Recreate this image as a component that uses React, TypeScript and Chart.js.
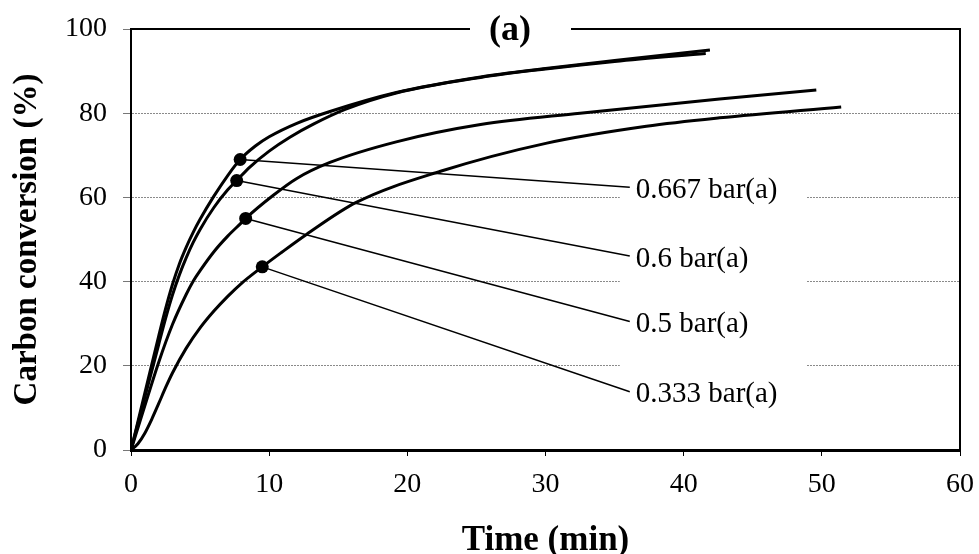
import React, { useEffect, useRef } from 'react';
import { Chart, registerables } from 'chart.js';

Chart.register(...registerables);

const FONT = "'Liberation Serif', 'Times New Roman', Times, serif";

// Series data (time in min, carbon conversion in %)
const time667 = [0, 1, 2, 2.5, 3, 3.5, 4, 4.5, 5, 6, 7, 7.9, 9, 10, 12, 14.4, 19.2, 25.3, 30, 35, 41.9];
const conv667 = [0, 13.5, 27, 33.5, 39.3, 44.2, 48.2, 51.7, 54.8, 60.3, 65.2, 69, 72.2, 74.4, 77.6, 80.4, 84.9, 88.6, 90.6, 92.5, 95.0];

const time600 = [0, 1, 2, 2.5, 3, 3.5, 4, 4.5, 5, 6, 7, 7.65, 8.6, 10, 11.5, 13.2, 15.5, 19.2, 25.3, 30, 35, 41.6];
const conv600 = [0, 12.5, 25, 31.2, 36.8, 41.6, 45.7, 49.3, 52.4, 57.6, 61.8, 64, 67.2, 71.0, 74.3, 77.4, 80.9, 84.8, 88.5, 90.5, 92.3, 94.2];

const time500 = [0, 1, 2, 3, 4, 4.5, 5, 6, 7, 8, 8.3, 10.3, 12, 14.4, 19.2, 25.3, 32.5, 42.6, 49.6];
const conv500 = [0, 10.5, 20.8, 29.8, 37, 40.1, 42.6, 47.1, 50.8, 54, 55, 60.5, 64.5, 68.3, 73.2, 77.3, 80.0, 83.4, 85.5];

const time333 = [0, 0.5, 1, 1.5, 2, 2.5, 3, 4, 5, 6, 7, 8, 9.5, 10.8, 12.7, 16.3, 22.4, 30.1, 37.3, 42.6, 51.4];
const conv333 = [0, 1.5, 4, 7.3, 11, 14.8, 18.3, 24.2, 29, 33, 36.5, 39.6, 43.5, 46.7, 51.2, 58.8, 66.2, 72.9, 76.9, 78.9, 81.5];

const seriesNames = ['0.667 bar(a)', '0.6 bar(a)', '0.5 bar(a)', '0.333 bar(a)'];
const markerTime = [7.9, 7.65, 8.3, 9.5];
const markerConv = [69, 64, 55, 43.5];
const labelTime = 36.1;
const labelConv = [62.4, 46.1, 30.5, 13.85];

const xTicks = [0, 10, 20, 30, 40, 50, 60];
const yTicks = [0, 20, 40, 60, 80, 100];

const chartTitle = '(a)';
const xTitle = 'Time (min)';
const yTitle = 'Carbon conversion (%)';

const toPts = (xs: number[], ys: number[]) => xs.map((x, i) => ({ x, y: ys[i] }));

const annotPlugin = {
  id: 'annot',
  beforeDatasetsDraw(chart: any) {
    const { ctx, scales } = chart;
    const x = scales.x, y = scales.y;
    const lx = x.getPixelForValue(labelTime);
    const top = y.getPixelForValue(labelConv[0]) - 26;
    const bottom = y.getPixelForValue(labelConv[labelConv.length - 1]) + 22;
    ctx.save();
    ctx.fillStyle = '#ffffff';
    ctx.fillRect(lx - 10, top, 187, bottom - top);
    ctx.restore();
  },
  afterDatasetsDraw(chart: any) {
    const { ctx, scales } = chart;
    const x = scales.x, y = scales.y;
    ctx.save();
    ctx.fillStyle = '#000';
    ctx.font = `29px ${FONT}`;
    ctx.textAlign = 'left';
    ctx.textBaseline = 'middle';
    seriesNames.forEach((n, i) => {
      ctx.fillText(n, x.getPixelForValue(labelTime) + 6, y.getPixelForValue(labelConv[i]) + 3);
    });
    ctx.restore();
  },
  afterDraw(chart: any) {
    const { ctx, chartArea } = chart;
    const { left, right, top, bottom } = chartArea;
    const gapL = left + 339;
    const gapR = left + 440;
    ctx.save();
    ctx.strokeStyle = '#000';
    ctx.lineWidth = 2;
    ctx.beginPath();
    ctx.moveTo(left, top);
    ctx.lineTo(gapL, top);
    ctx.moveTo(gapR, top);
    ctx.lineTo(right, top);
    ctx.moveTo(right, top - 1);
    ctx.lineTo(right, bottom);
    ctx.stroke();
    ctx.fillStyle = '#000';
    ctx.font = `bold 36px ${FONT}`;
    ctx.textAlign = 'center';
    ctx.textBaseline = 'middle';
    ctx.fillText(chartTitle, left + 379, top + 2);
    ctx.restore();
  },
};

export default function App() {
  const ref = useRef<HTMLCanvasElement | null>(null);

  useEffect(() => {
    if (!ref.current) return;
    const curve = (xs: number[], ys: number[], label: string) => ({
      label,
      data: toPts(xs, ys),
      borderColor: '#000',
      backgroundColor: '#000',
      borderWidth: 3,
      pointRadius: 0,
      cubicInterpolationMode: 'monotone' as const,
    });
    const leader = (i: number) => ({
      label: 'leader ' + seriesNames[i],
      data: [
        { x: markerTime[i], y: markerConv[i] },
        { x: labelTime, y: labelConv[i] },
      ],
      borderColor: '#000',
      backgroundColor: '#000',
      borderWidth: 1.5,
      pointRadius: [6.5, 0],
      pointBorderWidth: 0,
      tension: 0,
    });
    const chart = new Chart(ref.current, {
      type: 'line',
      data: {
        datasets: [
          curve(time667, conv667, seriesNames[0]),
          curve(time600, conv600, seriesNames[1]),
          curve(time500, conv500, seriesNames[2]),
          curve(time333, conv333, seriesNames[3]),
          leader(0),
          leader(1),
          leader(2),
          leader(3),
        ] as any,
      },
      options: {
        animation: false,
        responsive: false,
        devicePixelRatio: 1,
        layout: { padding: { left: 0, right: 19, top: 29, bottom: 0 } },
        plugins: {
          legend: { display: false },
          tooltip: { enabled: false },
        },
        scales: {
          x: {
            type: 'linear',
            min: 0,
            max: 60,
            afterBuildTicks: (s: any) => {
              s.ticks = xTicks.map((v) => ({ value: v }));
            },
            afterFit: (s: any) => {
              s.height = 104;
              s.paddingLeft = 0;
              s.paddingRight = 0;
            },
            ticks: {
              color: '#000',
              font: { family: FONT, size: 28 },
              padding: 12,
              maxRotation: 0,
            },
            grid: {
              drawOnChartArea: false,
              drawTicks: true,
              tickLength: 6,
              tickColor: '#000',
              tickWidth: 1,
            },
            border: { display: true, color: '#000', width: 3 },
            title: {
              display: true,
              text: xTitle,
              color: '#000',
              font: { family: FONT, size: 35, weight: 'bold', lineHeight: 0.5 },
              padding: { top: 0, bottom: 4 },
            },
          },
          y: {
            type: 'linear',
            min: 0,
            max: 100,
            afterBuildTicks: (s: any) => {
              s.ticks = yTicks.map((v) => ({ value: v }));
            },
            afterFit: (s: any) => {
              s.width = 131;
              s.paddingTop = 0;
              s.paddingBottom = 0;
            },
            ticks: {
              color: '#000',
              font: { family: FONT, size: 28 },
              padding: 16,
            },
            grid: {
              drawOnChartArea: true,
              drawTicks: true,
              tickLength: 8,
              tickColor: '#777',
              tickWidth: 1,
              lineWidth: 1,
              color: (c: any) =>
                c.tick && (c.tick.value === 0 || c.tick.value === 100) ? 'rgba(0,0,0,0)' : '#8a8a8a',
            },
            border: { display: true, color: '#000', width: 2, dash: [2, 1] },
            title: {
              display: true,
              text: yTitle,
              color: '#000',
              font: { family: FONT, size: 33, weight: 'bold' },
              padding: { top: 8, bottom: 0 },
            },
          },
        },
      },
      plugins: [annotPlugin],
    } as any);
    return () => chart.destroy();
  }, []);

  return (
    <div style={{ position: 'absolute', left: 0, top: 0, width: 979, height: 554 }}>
      <canvas ref={ref} width={979} height={554} style={{ display: 'block' }} />
    </div>
  );
}
